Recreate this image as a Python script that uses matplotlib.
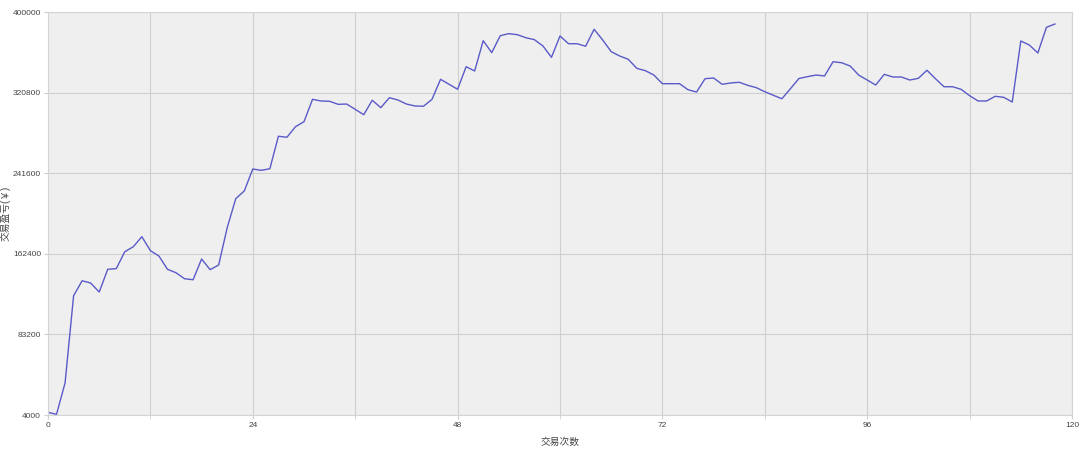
import matplotlib.pyplot as plt
import numpy as np

plt.rcParams['font.family'] = ['Liberation Sans', 'Noto Sans CJK SC', 'DejaVu Sans']

# cumulative profit per trade
profit = [
    6600, 4700, 35500, 121300, 136000, 133800, 124900, 147300, 147900, 164600,
    169500, 179300, 165600, 160300, 147300, 143900, 138000, 137000, 157400, 146900,
    151500, 188200, 216700, 224300, 245900, 244600, 246200, 278100, 277100, 287500,
    292400, 314400, 312800, 312500, 309500, 309800, 304600, 299300, 313500, 306200,
    316000, 313800, 309800, 307900, 307600, 314400, 334100, 329200, 324300, 346500,
    342300, 372100, 360300, 377000, 379000, 378000, 375000, 373100, 366900, 355700,
    376700, 369100, 369100, 366600, 383300, 372800, 361300, 357000, 353800, 344900,
    342600, 338300, 329800, 329800, 329800, 323900, 321600, 334700, 335400, 329200,
    330500, 331200, 328200, 325900, 321900, 318400, 315000, 324800, 334900, 336700,
    338300, 337400, 351400, 350400, 347200, 338300, 333400, 328500, 339000, 336400,
    336400, 333400, 335100, 343000, 334700, 326800, 326800, 324300, 318000, 312800,
    312800, 317400, 316400, 311800, 371800, 367800, 360000, 385200, 388500,
]
trades = np.arange(len(profit))

y_ticks = [4000, 83200, 162400, 241600, 320800, 400000]
x_ticks = [0, 24, 48, 72, 96, 120]

fig = plt.figure(figsize=(10.8, 4.54), dpi=100)
ax = fig.add_axes([48/1080, 1 - 415/454, (1072 - 48)/1080, (415 - 12.3)/454])
ax.set_facecolor('#efefef')

ax.plot(trades, profit, color='#5a5ac8', linewidth=1.0)

ax.set_xlim(0, 120)
ax.set_ylim(4000, 400000)
ax.set_xticks(x_ticks)
ax.set_xticks(np.arange(12, 120, 24), minor=True)
ax.set_yticks(y_ticks)
ax.set_xticklabels([str(t) for t in x_ticks])
ax.set_yticklabels([str(t) for t in y_ticks])

ax.grid(True, which='both', color='#cfcfcf', linewidth=0.8)
ax.set_axisbelow(True)
ax.tick_params(which='both', length=3, color='#cfcfcf', labelsize=6, labelcolor='#444444', pad=2)

for s in ax.spines.values():
    s.set_color('#d4d4d4')
    s.set_linewidth(0.8)

ax.set_xlabel('交易次数', fontsize=7, color='#444444', labelpad=6)
ax.set_ylabel('交易盈亏(￥)', fontsize=7, color='#444444')
ax.yaxis.set_label_coords(-0.037, 0.5)

fig.savefig('out.png', dpi=100)
